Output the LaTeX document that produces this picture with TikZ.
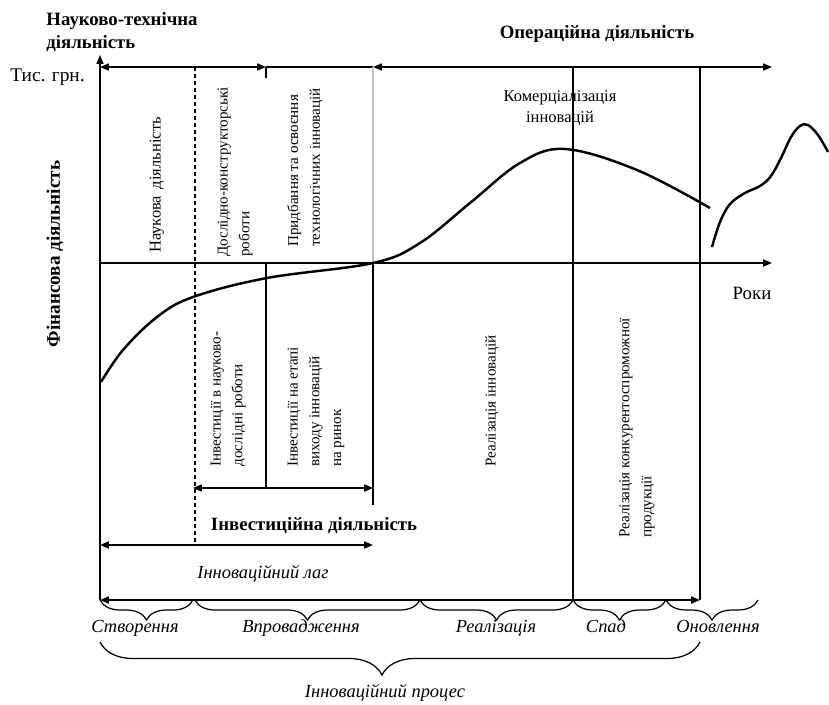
\documentclass[tikz,border=0pt]{standalone}
\usepackage{fontspec}
\setmainfont{Liberation Serif}
\usetikzlibrary{arrows.meta,decorations.pathreplacing}

\begin{document}
\begin{tikzpicture}[x=0.02cm, y=-0.02cm, >={Triangle[length=5pt,width=4pt]},
    ln/.style={line width=0.8pt},
    vlab/.style={rotate=90, inner sep=0pt, anchor=west, align=left, font=\fontsize{8.6}{12.4}\selectfont},
    lab/.style={inner sep=0pt, anchor=base, align=center, font=\fontsize{9.4}{10.4}\selectfont},
    head/.style={inner sep=0pt, anchor=base, align=left, font=\fontsize{10.7}{13}\selectfont\bfseries},
    stage/.style={inner sep=0pt, anchor=base, font=\fontsize{10.5}{12}\selectfont\itshape},
    brc/.style={decorate, decoration={brace, mirror, amplitude=0.4cm}, line width=0.7pt}]
        \useasboundingbox (0,0) rectangle (829,704);
        \def\top{67}
        \def\mid{263}
        \def\bot{600}

        % axes
        \draw[ln, ->] (100,\bot) -- (100,55);
        \draw[ln, ->] (100,\mid) -- (772,\mid);
        \draw[ln, <->] (100,\bot) -- (700,\bot);
        \draw[ln, <->] (100,\top) -- (266,\top);\draw[ln] (266,\top) -- (373,\top);\draw[ln, <->] (373,\top) -- (772,\top);

        % dividers
        \draw[ln] (266,\top) -- ++(0,11);
        \draw[ln, dash pattern=on 2.3pt off 1.7pt] (195,\top) -- (195,545);
        \draw[line width=0.8pt, gray!50] (373,\top) -- (373,\mid);\draw[ln] (373,\mid) -- (373,505);
        \draw[ln] (266,\mid) -- (266,488);
        \draw[ln] (573,\top) -- (573,\bot);\draw[ln] (700,\top) -- (700,\bot);
        \draw[ln, <->] (193,488) -- (373,488);
        \draw[ln, <->] (100,545) -- (373,545);

        % curves
        \draw[line width=1.4pt] plot[smooth, tension=0.6] coordinates {(101,382) (123,350) (157,317) (193,297) (267,278) (373,263) (420,243) (470,203) (520,163) (565,149) (637,170) (710,208)};
        \draw[line width=1.4pt] plot[smooth, tension=0.6] coordinates {(712,247) (720,222) (730,204) (745,193) (760,186) (771,176) (781,158) (791,137) (800,126) (808,125) (818,135) (828,152)};

        % headings
        \node[head] (nt) at (122,48) {Науково-технічна\\діяльність};
        \node[head] (op) at (597,38) {Операційна діяльність};
        \node[head] (inv) at (314,530) {Інвестиційна діяльність};
        \node[head, rotate=90, anchor=center, font=\fontsize{10.9}{13}\selectfont\bfseries] (fin) at (55,254) {Фінансова діяльність};
        \node[lab, anchor=base west, font=\fontsize{11}{13}\selectfont] (tys) at (10,81) {Тис. грн.};
        \node[lab, font=\fontsize{10.7}{13}\selectfont] (roky) at (752,299) {Роки};
        \node[lab] (kom) at (560,122) {Комерціалізація\\[1.5pt]інновацій};

        % rotated labels
        \node[vlab, anchor=center, font=\fontsize{9.4}{13}\selectfont] (nauk) at (157,185) {Наукова\hspace{0.4em}діяльність};
        \node[vlab] (dosl) at (235,257) {Дослідно-конструкторські\\роботи};
        \node[vlab] (prydb) at (305,247) {Придбання та освоєння\\технологічних інновацій};
        \node[vlab] (inv1) at (228,467) {Інвестиції в науково-\\дослідні роботи};
        \node[vlab] (inv2) at (316,467) {Інвестиції на етапі\\виходу інновацій\\на ринок};
        \node[vlab] (real) at (492,467) {Реалізація інновацій};
        \node[vlab] (konk) at (637,538) {Реалізація конкурентоспроможної\\продукції};

        % stages
        \draw[brc] (100,\bot) -- (193,\bot);\draw[brc] (195,\bot) -- (420,\bot);\draw[brc] (420,\bot) -- (573,\bot);
        \draw[brc] (573,\bot) -- (666,\bot);\draw[brc] (666,\bot) -- (758,\bot);
        \node[stage] (lag) at (263,578) {Інноваційний лаг};
        \node[stage] (s1) at (135,632) {Створення};
        \node[stage] (s2) at (301,632) {Впровадження};
        \node[stage] (s3) at (496,632) {Реалізація};
        \node[stage] (s4) at (606,632) {Спад};
        \node[stage] (s5) at (718,632) {Оновлення};
        \draw[brc, decoration={amplitude=0.66cm, aspect=0.47}] (100,642) -- (700,642);
        \node[stage] (proc) at (385,697) {Інноваційний процес};
\end{tikzpicture}
\end{document}
